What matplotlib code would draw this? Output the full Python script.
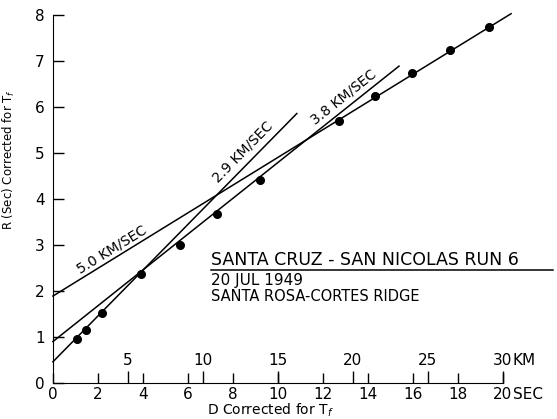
import numpy as np
import matplotlib
matplotlib.use("Agg")
import matplotlib.pyplot as plt

# observed points, D (sec) vs R (sec), both corrected for Tf
d_obs = [1.08, 1.48, 2.19, 3.93, 5.64, 7.30, 9.20, 12.71, 14.33, 15.97, 17.64, 19.38]
r_obs = [0.95, 1.15, 1.52, 2.37, 3.01, 3.68, 4.42, 5.69, 6.24, 6.74, 7.25, 7.75]

# fitted velocity lines: label, intercept at D=0, end point
line_labels = ["2.9 KM/SEC", "3.8 KM/SEC", "5.0 KM/SEC"]
line_r0 = [0.46, 0.90, 1.89]
line_d_end = [10.84, 15.38, 20.36]
line_r_end = [5.86, 6.89, 8.03]
# where the labels sit (data coords)
label_d = [8.44, 12.93, 2.62]
label_r = [5.02, 6.22, 2.91]

sec_ticks = [0, 2, 4, 6, 8, 10, 12, 14, 16, 18, 20]
sec_labels = ["0", "2", "4", "6", "8", "10", "12", "14", "16", "18", "20"]
km_ticks = [5, 10, 15, 20, 25, 30]
km_labels = ["5", "10", "15", "20", "25", "30"]
r_ticks = [0, 1, 2, 3, 4, 5, 6, 7, 8]

plt.rcParams["font.family"] = "DejaVu Sans"

fig = plt.figure(figsize=(5.57, 4.19), dpi=100)
ax = fig.add_axes([0.095, 0.086, 0.808, 0.878])

for r0, de, re_ in zip(line_r0, line_d_end, line_r_end):
    ax.plot([0, de], [r0, re_], color="black", lw=1.1, clip_on=False)

ax.plot(d_obs, r_obs, "o", color="black", ms=5.5, clip_on=False)

for lab, x0, y0, r0, de, re_ in zip(line_labels, label_d, label_r, line_r0, line_d_end, line_r_end):
    slope = (re_ - r0) / de
    ang = np.degrees(np.arctan(slope))
    ax.text(x0, y0, lab, rotation=ang, transform_rotates_text=True,
            rotation_mode="anchor", ha="center", va="center", fontsize=10)

ax.set_xlim(0, 20)
ax.set_ylim(0, 8)
ax.spines["top"].set_visible(False)
ax.spines["right"].set_visible(False)

ax.set_xticks(sec_ticks, sec_labels)
ax.set_yticks(r_ticks)
ax.tick_params(axis="both", direction="in", labelsize=11, width=1)
ax.tick_params(axis="x", length=7, pad=3)
ax.tick_params(axis="y", length=8, pad=6)
ax.annotate("SEC", xy=(20, 0), xycoords="data", xytext=(7, -3),
            textcoords="offset points", ha="left", va="top", fontsize=11)

# km scale along the bottom, 1.5 km per sec
km = ax.secondary_xaxis(0.0, functions=(lambda s: s * 1.5, lambda k: k / 1.5))
km.set_alignment("top")
km.set_xticks(km_ticks, km_labels)
km.tick_params(direction="out", length=9, width=1, pad=2, labelsize=11)
km.spines["top"].set_visible(False)
ax.annotate("KM", xy=(20, 0), xycoords="data", xytext=(7, 11),
            textcoords="offset points", ha="left", va="bottom", fontsize=11)

ax.set_xlabel("D Corrected for T$_f$", fontsize=10)
ax.xaxis.set_label_coords(0.484, -0.052)
ax.set_ylabel("R (Sec) Corrected for T$_f$", fontsize=8.5)
ax.yaxis.set_label_coords(-0.08, 0.606)

# run identification
ax.text(0.351, 0.32, "SANTA CRUZ - SAN NICOLAS RUN 6", transform=ax.transAxes,
        fontsize=12.5, ha="left", va="baseline")
ax.plot([0.351, 1.111], [0.308, 0.308], color="black", lw=1.1,
        transform=ax.transAxes, clip_on=False)
ax.text(0.351, 0.267, "20 JUL 1949", transform=ax.transAxes,
        fontsize=11, ha="left", va="baseline")
ax.text(0.351, 0.224, "SANTA ROSA-CORTES RIDGE", transform=ax.transAxes,
        fontsize=10.5, ha="left", va="baseline")

fig.savefig("out.png", dpi=100)
